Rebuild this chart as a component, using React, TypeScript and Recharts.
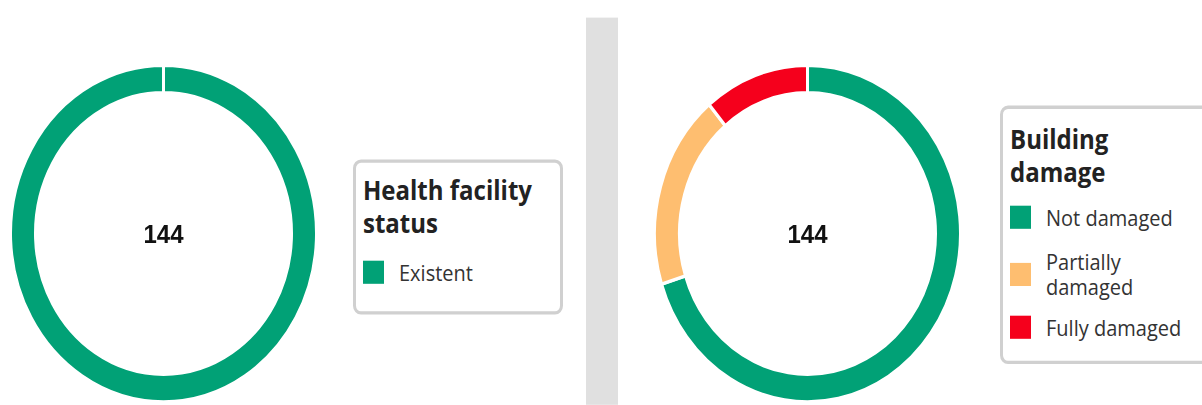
import React from 'react';
import { PieChart, Pie, Cell, Legend } from 'recharts';

const healthNames = ['Existent'];
const healthValues = [144];
const healthColors = ['#01a176'];

const damageNames = ['Not damaged', 'Partially damaged', 'Fully damaged'];
const damageValues = [101, 27, 16];
const damageColors = ['#01a176', '#febe70', '#f5001c'];

// the reference is stretched vertically, so everything is laid out at 1/1.1 height
const SCALE_Y = 1.1;
const FONT = '"Open Sans", "Noto Sans", sans-serif';
const CY = 212.3;

const toRows = (names: string[], values: number[]) => names.map((name, i) => ({ name, value: values[i] }));
const sum = (values: number[]) => values.reduce((a, b) => a + b, 0);

const LegendBox = ({ title, payload, names, height, padTop, gaps, textWidth }: any) => {
  // keep the data order, not the alphabetical one
  const items = [...(payload || [])].sort((a: any, b: any) => names.indexOf(a.value) - names.indexOf(b.value));
  return (
    <div
      style={{
        border: '3px solid #d0d0d0',
        borderRadius: 8,
        background: '#fff',
        padding: `${padTop}px 8px 0 7px`,
        height,
        boxSizing: 'border-box',
        fontFamily: FONT,
      }}
    >
      <div style={{ fontSize: 24, fontWeight: 700, lineHeight: '30px', color: '#222', width: 175 }}>{title}</div>
      {items.map((p: any, i: number) => (
        <div key={i} style={{ display: 'flex', alignItems: 'center', marginTop: gaps[i] }}>
          <span style={{ width: 21, height: 21, background: p.color, flexShrink: 0 }} />
          <span style={{ marginLeft: 15, fontSize: 20, lineHeight: '23px', color: '#333', width: textWidth }}>{p.value}</span>
        </div>
      ))}
    </div>
  );
};

const Donut = ({ names, values, colors, cx, title, legendStyle, legendProps, width }: any) => (
  <PieChart width={width} height={405 / SCALE_Y} margin={{ top: 0, right: 0, bottom: 0, left: 0 }}>
    <Pie
      data={toRows(names, values)}
      dataKey="value"
      nameKey="name"
      cx={cx}
      cy={CY}
      innerRadius={128}
      outerRadius={153}
      startAngle={90}
      endAngle={-270}
      stroke="#fff"
      strokeWidth={3}
      isAnimationActive={false}
    >
      {values.map((_: number, i: number) => (
        <Cell key={i} fill={colors[i]} />
      ))}
    </Pie>
    <text
      x={cx}
      y={CY}
      textAnchor="middle"
      dominantBaseline="central"
      fill="#111"
      fontSize={24}
      fontWeight={700}
      fontFamily='"Liberation Sans", Arial, sans-serif'
    >
      {sum(values)}
    </text>
    <Legend
      layout="vertical"
      align="right"
      verticalAlign="middle"
      wrapperStyle={legendStyle}
      content={(props: any) => <LegendBox title={title} payload={props.payload} names={names} {...legendProps} />}
    />
  </PieChart>
);

export default function App() {
  return (
    <div style={{ width: 1202, height: 405, overflow: 'hidden', position: 'relative' }}>
      <style>{`body{margin:0;background:#fff}`}</style>
      <div
        style={{
          position: 'absolute',
          left: 0,
          top: 0,
          width: 1202,
          height: 405 / SCALE_Y,
          transform: `scaleY(${SCALE_Y})`,
          transformOrigin: 'top left',
        }}
      >
        <div style={{ position: 'absolute', left: 0, top: 0 }}>
          <Donut
            width={580}
            names={healthNames}
            values={healthValues}
            colors={healthColors}
            cx={163.5}
            title="Health facility status"
            legendStyle={{ left: 353, top: 144.5, width: 210, height: 141 }}
            legendProps={{ height: 141, padTop: 10, gaps: [18.5], textWidth: 150 }}
          />
        </div>
        <div style={{ position: 'absolute', left: 586, top: 15.5, width: 32, height: 405 / SCALE_Y - 15.5, background: '#e0e0e0' }} />
        <div style={{ position: 'absolute', left: 618, top: 0 }}>
          <Donut
            width={584}
            names={damageNames}
            values={damageValues}
            colors={damageColors}
            cx={189.5}
            title="Building damage"
            legendStyle={{ left: 382, top: 95.5, width: 215, height: 235.5 }}
            legendProps={{ height: 235.5, padTop: 12, gaps: [15.5, 17, 13.5], textWidth: 145 }}
          />
        </div>
      </div>
    </div>
  );
}
